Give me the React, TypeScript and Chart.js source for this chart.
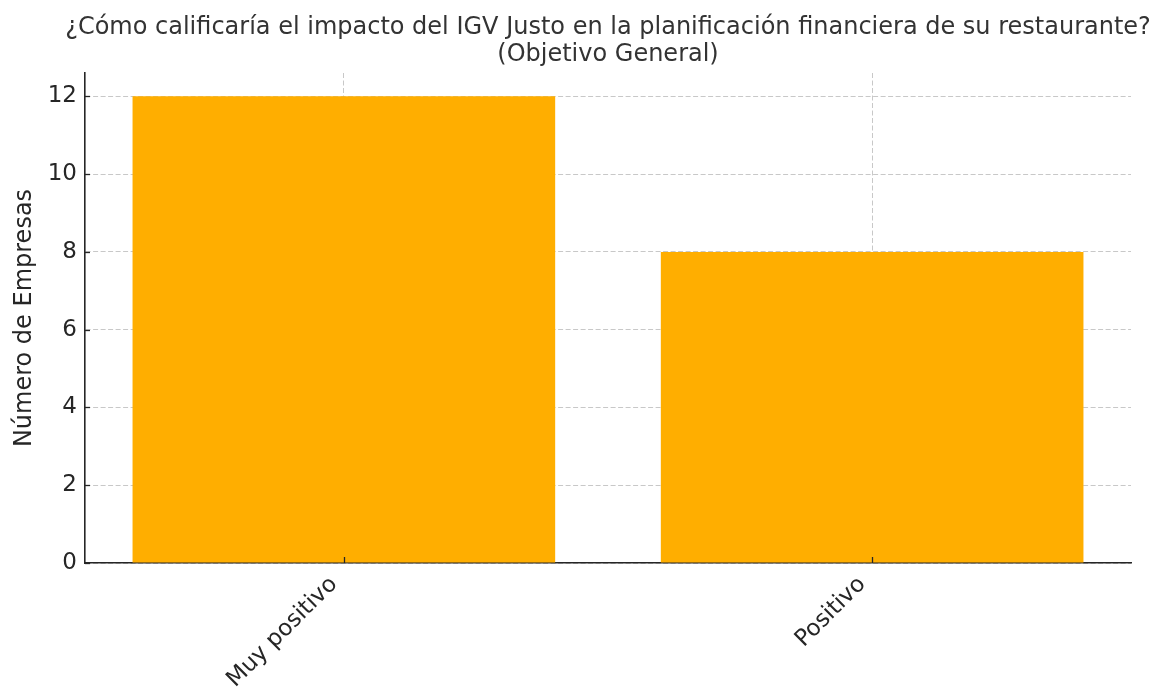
import React, { useEffect, useRef } from "react";
import { Chart, registerables } from "chart.js";

Chart.register(...registerables);

const titleLines = [
  "¿Cómo calificaría el impacto del IGV Justo en la planificación financiera de su restaurante?",
  "(Objetivo General)",
];
const categories = ["Muy positivo", "Positivo"];
const values = [12, 8];
const yAxisTitle = "Número de Empresas";

const FONT = "'DejaVu Sans', sans-serif";
const TEXT = "#262626";

const inwardTicks = {
  id: "inwardTicks",
  afterDraw(chart: any) {
    const { ctx, chartArea } = chart;
    const xs = chart.scales.x;
    const ys = chart.scales.y;
    ctx.save();
    ctx.strokeStyle = TEXT;
    ctx.lineWidth = 1.3;
    ys.ticks.forEach((_t: any, i: number) => {
      const y = Math.round(ys.getPixelForTick(i)) + 0.5;
      ctx.beginPath();
      ctx.moveTo(chartArea.left, y);
      ctx.lineTo(chartArea.left + 5, y);
      ctx.stroke();
    });
    xs.ticks.forEach((_t: any, i: number) => {
      const x = Math.round(xs.getPixelForTick(i)) + 0.5;
      ctx.beginPath();
      ctx.moveTo(x, chartArea.bottom);
      ctx.lineTo(x, chartArea.bottom - 6);
      ctx.stroke();
    });
    ctx.restore();
  },
};

const centeredTitle = {
  id: "centeredTitle",
  afterDraw(chart: any) {
    const { ctx, chartArea } = chart;
    const cx = (chartArea.left + chartArea.right) / 2;
    ctx.save();
    ctx.fillStyle = "#333333";
    ctx.font = `24px ${FONT}`;
    ctx.textAlign = "center";
    ctx.textBaseline = "alphabetic";
    titleLines.forEach((line, i) => {
      ctx.fillText(line, cx, 34 + i * 27);
    });
    ctx.restore();
  },
};

export default function App() {
  const ref = useRef<HTMLCanvasElement>(null);
  useEffect(() => {
    if (!ref.current) return;
    const chart = new Chart(ref.current, {
      type: "bar",
      data: {
        datasets: [
          {
            data: values.map((v, i) => ({ x: i, y: v })),
            backgroundColor: "#FFAE00",
            borderWidth: 0,
            barPercentage: 0.8,
            categoryPercentage: 1,
          },
        ],
      },
      options: {
        responsive: false,
        animation: false,
        devicePixelRatio: 1,
        layout: { padding: { left: 0, right: 26, top: 73, bottom: 0 } },
        plugins: {
          legend: { display: false },
          tooltip: { enabled: false },
          title: { display: false },
        },
        scales: {
          x: {
            type: "linear",
            min: -0.49,
            max: 1.49,
            offset: false,
            z: 1,
            afterBuildTicks: (scale: any) => {
              scale.ticks = categories.map((_c, i) => ({ value: i }));
            },
            afterFit: (scale: any) => {
              scale.height = 125;
            },
            ticks: {
              callback: (v: any) => categories[v as number] ?? "",
              color: TEXT,
              font: { family: FONT, size: 23 },
              minRotation: 45,
              maxRotation: 45,
              padding: 8,
              labelOffset: -10,
              autoSkip: false,
            },
            grid: {
              offset: false,
              color: "rgba(176,176,176,0.7)",
              lineWidth: 1,
              drawTicks: false,
            },
            border: { color: TEXT, width: 1.6, dash: [5, 2.5] },
          },
          y: {
            min: 0,
            max: 12.6,
            z: 1,
            afterFit: (scale: any) => {
              scale.width = 85;
            },
            ticks: {
              stepSize: 2,
              includeBounds: false,
              color: TEXT,
              font: { family: FONT, size: 23 },
              padding: 8,
            },
            grid: {
              color: "rgba(176,176,176,0.7)",
              lineWidth: 1,
              drawTicks: false,
            },
            border: { color: TEXT, width: 1.6, dash: [5, 2.5] },
            title: {
              display: true,
              text: yAxisTitle,
              color: TEXT,
              font: { family: FONT, size: 24 },
              padding: { top: 10, bottom: 0 },
            },
          },
        },
      },
      plugins: [inwardTicks, centeredTitle],
    } as any);
    return () => chart.destroy();
  }, []);
  return (
    <div style={{ position: "absolute", left: 0, top: 0, width: 1157, height: 688, background: "#fff" }}>
      <canvas ref={ref} width={1157} height={688} style={{ display: "block" }} />
    </div>
  );
}
